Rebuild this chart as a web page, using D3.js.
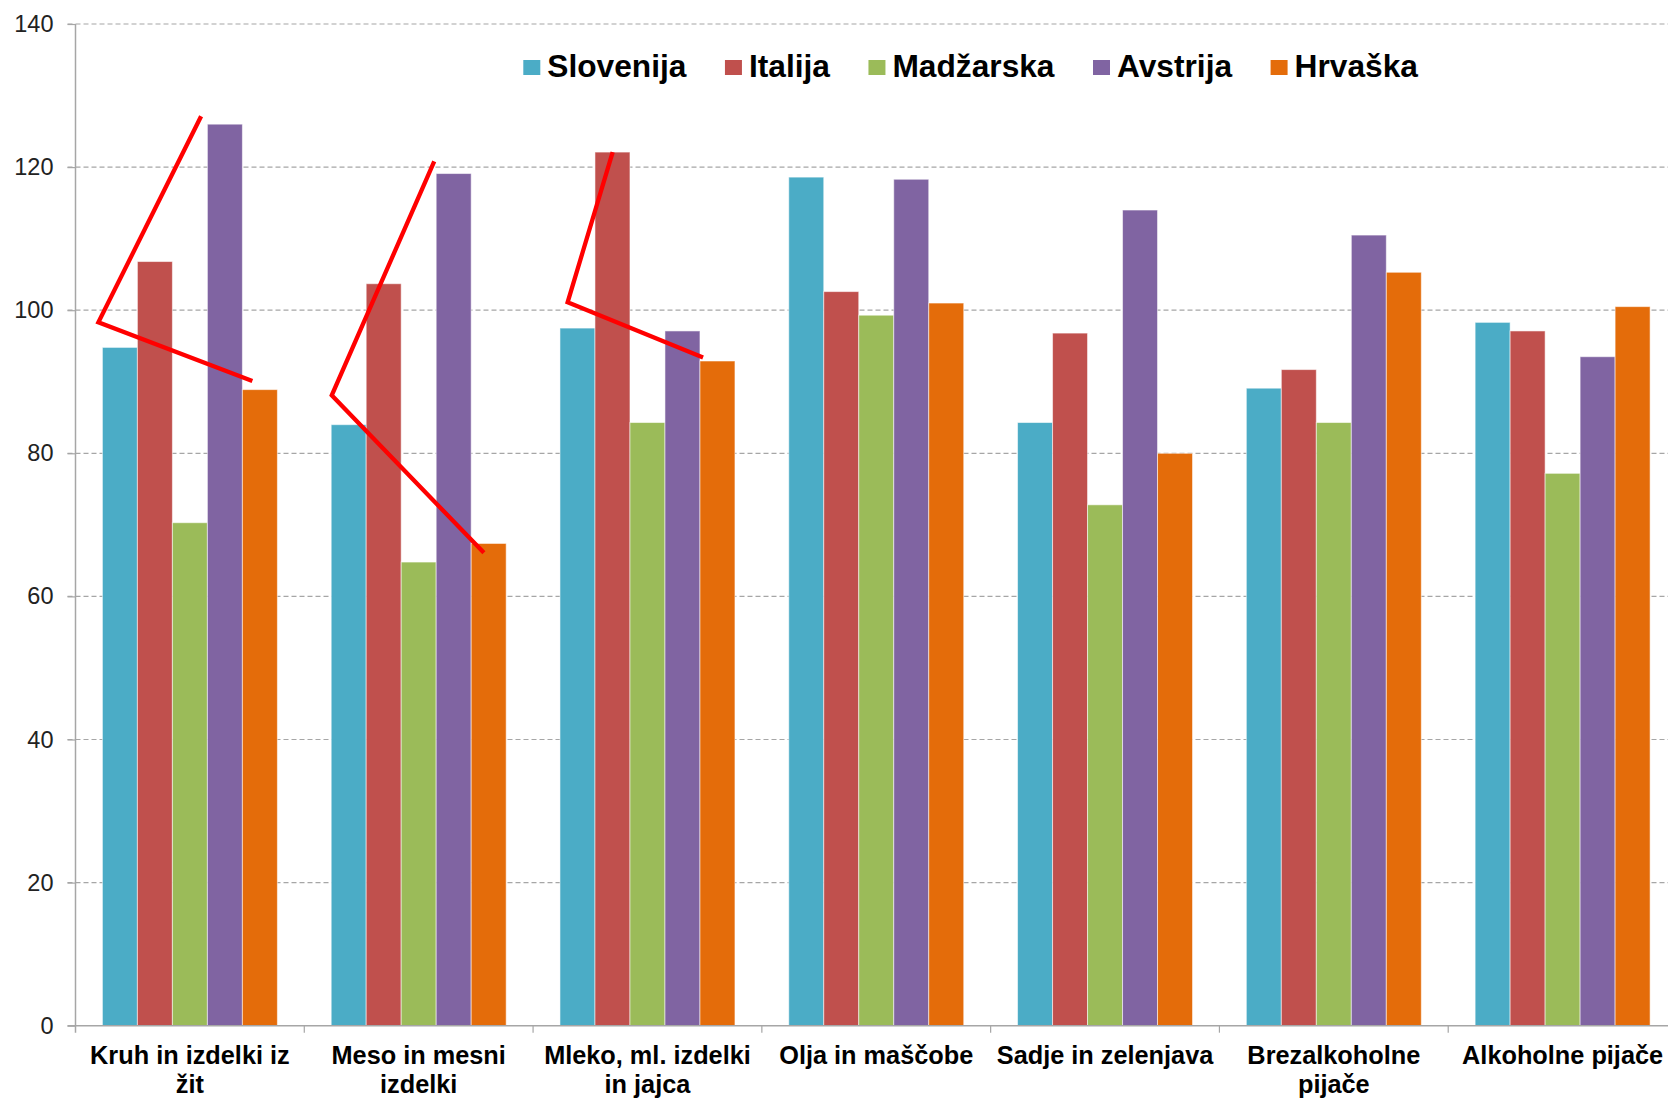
<!DOCTYPE html>
<html>
<head>
<meta charset="utf-8">
<script src="https://cdn.jsdelivr.net/npm/d3@7"></script>
<style>
  html, body { margin: 0; padding: 0; background: #fff; }
  svg { display: block; font-family: "Liberation Sans", Arial, sans-serif; }
</style>
</head>
<body>
<svg id="chart" width="1668" height="1099"></svg>
<script>
// ---- data ----
const categories = [
  "Kruh in izdelki iz\nžit",
  "Meso in mesni\nizdelki",
  "Mleko, ml. izdelki\nin jajca",
  "Olja in maščobe",
  "Sadje in zelenjava",
  "Brezalkoholne\npijače",
  "Alkoholne pijače"
];
const seriesNames = ["Slovenija", "Italija", "Madžarska", "Avstrija", "Hrvaška"];
const slovenija = [94.8, 84.0, 97.5, 118.6, 84.3, 89.1, 98.3];
const italija   = [106.8, 103.7, 122.1, 102.6, 96.8, 91.7, 97.1];
const madzarska = [70.3, 64.8, 84.3, 99.3, 72.8, 84.3, 77.2];
const avstrija  = [126.0, 119.1, 97.1, 118.3, 114.0, 110.5, 93.5];
const hrvaska   = [88.9, 67.4, 92.9, 101.0, 80.0, 105.3, 100.5];
const seriesValues = [slovenija, italija, madzarska, avstrija, hrvaska];
const colors = ["#4BACC6", "#C0504D", "#9BBB59", "#8064A2", "#E46C0A"];
const yTicks = [0, 20, 40, 60, 80, 100, 120, 140];
// hand-drawn red annotation strokes: [category position (index + fraction), value]
const annotations = [
  [[0.549, 127.1], [0.100, 98.3], [0.773, 90.1]],
  [[1.568, 120.8], [1.120, 88.1], [1.785, 66.1]],
  [[2.348, 122.1], [2.151, 101.1], [2.743, 93.4]]
];

(function () {
  const svg = d3.select("#chart");
  const mLeft = 75.5, mRight = 1677, mTop = 24, mBottom = 1025.7;

  const x = d3.scaleBand().domain(d3.range(categories.length)).range([mLeft, mRight]).paddingInner(0).paddingOuter(0);
  const xc = d3.scaleLinear().domain([0, categories.length]).range([mLeft, mRight]);
  const groupPad = 26.9;
  const xs = d3.scaleBand().domain(d3.range(seriesNames.length))
    .range([groupPad, x.bandwidth() - groupPad]).padding(0);
  const y = d3.scaleLinear().domain([0, 140]).range([mBottom, mTop]);

  // gridlines
  svg.append("g").selectAll("line").data(yTicks.filter(d => d > 0)).join("line")
    .attr("x1", mLeft - 8).attr("x2", 1668)
    .attr("y1", d => y(d)).attr("y2", d => y(d))
    .attr("stroke", "#a6a6a6").attr("stroke-width", 1.2).attr("stroke-dasharray", "5,3");

  // y axis
  const yAxis = svg.append("g").attr("transform", `translate(${mLeft},0)`)
    .call(d3.axisLeft(y).tickValues(yTicks).tickSize(8).tickPadding(14));
  yAxis.select(".domain").remove();
  yAxis.selectAll(".tick line").attr("stroke", "#a6a6a6").attr("stroke-width", 1.2);
  yAxis.selectAll(".tick text").attr("font-size", 23.5).attr("fill", "#222")
    .attr("font-family", "'Liberation Sans', Arial, sans-serif");
  svg.append("line").attr("x1", mLeft).attr("x2", mLeft).attr("y1", y(140)).attr("y2", mBottom + 7)
    .attr("stroke", "#a6a6a6").attr("stroke-width", 1.5);

  // bars
  const groups = svg.append("g").selectAll("g").data(categories).join("g")
    .attr("transform", (d, i) => `translate(${x(i)},0)`);
  groups.selectAll("rect").data((d, i) => seriesValues.map((s, k) => ({ k, v: s[i] }))).join("rect")
    .attr("x", d => xs(d.k)).attr("width", xs.bandwidth())
    .attr("y", d => y(d.v)).attr("height", d => y(0) - y(d.v))
    .attr("fill", d => colors[d.k])
    .attr("stroke", "rgba(255,255,255,0.55)").attr("stroke-width", 1);

  // x axis
  svg.append("line").attr("x1", mLeft - 8).attr("x2", 1668).attr("y1", mBottom).attr("y2", mBottom)
    .attr("stroke", "#a6a6a6").attr("stroke-width", 1.5);
  svg.append("g").selectAll("line").data(d3.range(1, categories.length)).join("line")
    .attr("x1", d => xc(d)).attr("x2", d => xc(d))
    .attr("y1", mBottom).attr("y2", mBottom + 7)
    .attr("stroke", "#a6a6a6").attr("stroke-width", 1.2);

  // x labels
  const labels = svg.append("g").selectAll("text").data(categories).join("text")
    .attr("x", (d, i) => x(i) + x.bandwidth() / 2)
    .attr("y", 1064)
    .attr("text-anchor", "middle").attr("font-size", 25.3).attr("font-weight", "bold").attr("fill", "#000");
  labels.each(function (d) {
    const t = d3.select(this);
    d.split("\n").forEach((ln, j) => {
      t.append("tspan").attr("x", t.attr("x")).attr("dy", j === 0 ? 0 : 29).text(ln);
    });
  });

  // annotations
  const lineGen = d3.line().x(d => xc(d[0])).y(d => y(d[1]));
  svg.append("g").selectAll("path").data(annotations).join("path")
    .attr("d", lineGen).attr("fill", "none").attr("stroke", "#ff0000")
    .attr("stroke-width", 4.3).attr("stroke-linejoin", "miter");

  // legend
  const legend = svg.append("g");
  let lx = 523.3;
  seriesNames.forEach((name, k) => {
    legend.append("rect").attr("x", lx).attr("y", 60).attr("width", 17).attr("height", 15)
      .attr("fill", colors[k]);
    const t = legend.append("text").attr("x", lx + 24).attr("y", 76.5)
      .attr("font-size", 31.7).attr("font-weight", "bold").attr("fill", "#000").text(name);
    lx += 24 + t.node().getComputedTextLength() + 38.5;
  });
})();
</script>
</body>
</html>
